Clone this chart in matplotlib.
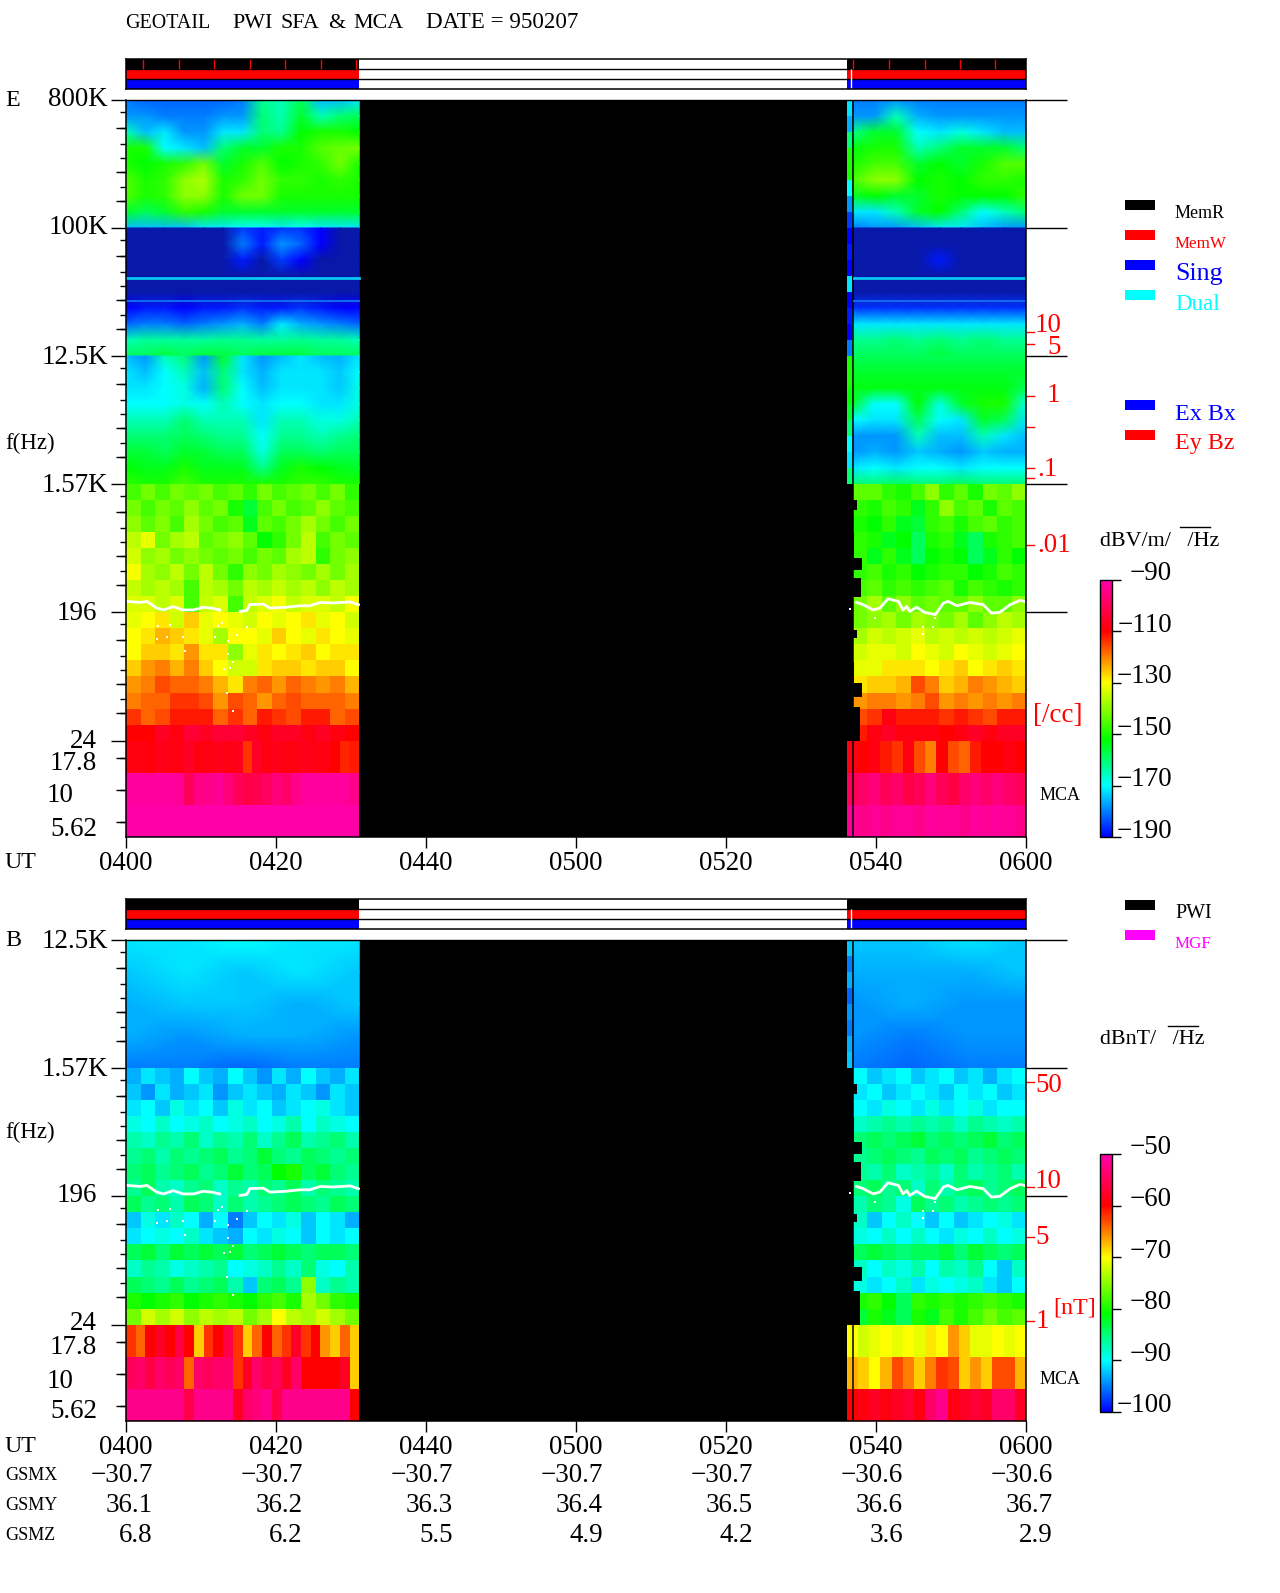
import numpy as np
import matplotlib
matplotlib.use('Agg')
import matplotlib.pyplot as plt
from matplotlib.colors import LinearSegmentedColormap, Normalize
from matplotlib.colorbar import ColorbarBase

W, H = 1280, 1593
plt.rcParams['font.family'] = ['Liberation Serif', 'DejaVu Serif']

# band edges in Hz, top down
band_e = [800000, 100000, 12500, 1570, 196, 24]
mca_hz = [24, 13.5, 7.59, 4.27]

# --- E panel, dBV/m/rtHz ---
e_a_left = [
    [-180,-182,-182,-182,-182,-182,-180,-162,-165,-158,-175,-175,-172],
    [-178,-178,-180,-180,-180,-178,-178,-160,-165,-155,-165,-160,-158],
    [-165,-175,-172,-178,-178,-172,-172,-160,-162,-152,-150,-150,-152],
    [-150,-150,-170,-172,-175,-160,-155,-155,-150,-150,-145,-143,-142],
    [-150,-152,-150,-148,-142,-155,-150,-145,-152,-150,-148,-142,-150],
    [-145,-150,-148,-140,-137,-150,-148,-142,-148,-148,-150,-148,-150],
    [-145,-150,-148,-140,-140,-150,-142,-142,-150,-150,-150,-150,-150],
    [-155,-158,-155,-148,-150,-155,-155,-155,-155,-155,-155,-155,-155],
    [-175,-175,-175,-175,-172,-172,-170,-170,-172,-170,-172,-172,-172],
]
e_a_right = [
    [-180,-180,-178,-180,-180,-180,-180,-180,-180],
    [-178,-178,-165,-176,-178,-178,-178,-178,-178],
    [-162,-155,-155,-170,-172,-168,-172,-175,-175],
    [-153,-150,-150,-165,-160,-155,-155,-155,-160],
    [-150,-146,-146,-155,-152,-155,-150,-145,-145],
    [-146,-140,-140,-152,-150,-152,-148,-148,-150],
    [-155,-152,-155,-155,-150,-152,-152,-152,-148],
    [-172,-172,-165,-155,-152,-160,-170,-165,-160],
    [-180,-178,-178,-175,-172,-172,-175,-178,-178],
]
e_b_left = [
    [-192,-192,-192,-192,-192,-192,-185,-188,-186,-186,-190,-192,-192],
    [-195,-195,-195,-195,-195,-195,-180,-188,-178,-182,-190,-195,-195],
    [-195,-195,-195,-195,-195,-195,-188,-195,-185,-190,-195,-195,-195],
    [-193,-193,-193,-193,-193,-193,-193,-193,-193,-193,-193,-193,-193],
    [-192,-192,-192,-192,-192,-192,-192,-192,-192,-192,-192,-192,-192],
    [-190,-188,-188,-190,-188,-188,-186,-188,-188,-186,-188,-190,-190],
    [-182,-180,-180,-182,-180,-178,-176,-180,-172,-176,-178,-180,-182],
    [-165,-163,-163,-163,-163,-162,-162,-163,-163,-162,-163,-163,-165],
    [-158,-158,-156,-158,-156,-156,-158,-156,-156,-156,-158,-158,-158],
]
e_b_right = [
    [-192,-192,-192,-192,-192,-192,-192,-192,-192],
    [-195,-195,-195,-195,-195,-195,-195,-195,-195],
    [-195,-195,-195,-195,-188,-195,-195,-195,-195],
    [-192,-192,-192,-192,-192,-192,-192,-192,-192],
    [-192,-192,-192,-192,-192,-192,-192,-192,-192],
    [-186,-186,-186,-186,-186,-186,-186,-186,-186],
    [-172,-172,-172,-172,-172,-172,-172,-172,-172],
    [-162,-162,-160,-162,-160,-162,-160,-162,-162],
    [-158,-158,-158,-158,-156,-158,-158,-158,-158],
]
e_c_left = [
    [-175,-178,-165,-160,-178,-155,-172,-178,-175,-172,-175,-176,-172],
    [-172,-175,-170,-165,-175,-160,-172,-176,-172,-172,-172,-174,-170],
    [-172,-172,-170,-168,-176,-160,-170,-175,-172,-172,-172,-174,-168],
    [-170,-170,-170,-168,-170,-165,-170,-172,-170,-170,-172,-172,-168],
    [-165,-165,-165,-160,-165,-165,-165,-172,-165,-165,-168,-168,-165],
    [-160,-160,-160,-158,-160,-162,-162,-170,-162,-162,-165,-162,-160],
    [-156,-156,-158,-155,-156,-158,-158,-168,-158,-158,-160,-158,-158],
    [-152,-154,-154,-150,-154,-154,-154,-162,-154,-150,-152,-154,-155],
    [-148,-150,-150,-146,-150,-150,-150,-150,-150,-148,-148,-150,-150],
]
e_c_right = [
    [-158,-158,-158,-158,-158,-158,-158,-158,-158],
    [-155,-155,-155,-155,-155,-155,-155,-155,-155],
    [-153,-153,-153,-153,-153,-153,-153,-153,-158],
    [-155,-170,-170,-152,-168,-155,-150,-150,-168],
    [-170,-172,-172,-158,-170,-172,-155,-158,-172],
    [-178,-178,-178,-165,-175,-175,-165,-172,-175],
    [-178,-176,-178,-174,-176,-178,-174,-176,-176],
    [-172,-170,-172,-170,-170,-172,-170,-170,-170],
    [-160,-160,-158,-160,-160,-158,-160,-160,-160],
]
e_d_left = [
    [-146,-142,-146,-142,-144,-142,-146,-144,-148,-142,-146,-144,-142,-146,-142,-148],
    [-142,-146,-142,-144,-140,-144,-142,-150,-156,-146,-142,-146,-144,-140,-144,-146],
    [-140,-144,-141,-146,-138,-142,-146,-144,-154,-144,-146,-142,-138,-142,-146,-142],
    [-136,-132,-142,-138,-136,-144,-142,-140,-144,-152,-148,-142,-136,-146,-142,-144],
    [-134,-140,-138,-142,-140,-142,-144,-142,-146,-142,-144,-138,-136,-148,-142,-140],
    [-131,-138,-140,-136,-142,-136,-142,-148,-140,-142,-138,-140,-142,-138,-142,-138],
    [-135,-138,-136,-138,-146,-136,-138,-142,-136,-138,-135,-138,-136,-140,-136,-138],
    [-133,-133,-136,-133,-146,-135,-133,-146,-135,-133,-131,-135,-133,-133,-135,-131],
]
e_e_left = [
    [-132,-130,-128,-134,-126,-132,-130,-132,-134,-130,-132,-130,-128,-132,-130,-134],
    [-130,-128,-124,-126,-128,-132,-138,-130,-130,-132,-126,-130,-132,-128,-130,-132],
    [-130,-126,-126,-128,-122,-128,-128,-140,-132,-128,-130,-128,-126,-130,-128,-128],
    [-126,-122,-120,-124,-120,-126,-130,-134,-134,-128,-126,-126,-128,-126,-126,-130],
    [-122,-120,-116,-118,-118,-120,-124,-128,-120,-118,-122,-118,-120,-122,-120,-124],
    [-120,-118,-118,-114,-114,-116,-122,-116,-118,-122,-118,-116,-118,-118,-118,-120],
    [-114,-118,-116,-112,-112,-112,-118,-114,-118,-112,-114,-116,-112,-112,-118,-116],
    [-110,-110,-106,-108,-104,-106,-104,-104,-106,-108,-106,-106,-108,-106,-108,-110],
]
e_d_right = [
    [-144,-144,-148,-150,-146,-140,-148,-144,-150,-142,-144,-140],
    [-148,-150,-146,-148,-154,-148,-140,-146,-144,-150,-144,-146],
    [-150,-152,-148,-154,-156,-148,-146,-150,-146,-144,-148,-146],
    [-148,-150,-154,-152,-158,-150,-148,-154,-158,-150,-148,-146],
    [-148,-154,-148,-154,-158,-152,-150,-152,-158,-154,-148,-152],
    [-148,-146,-150,-148,-152,-150,-148,-148,-152,-150,-146,-148],
    [-146,-144,-148,-146,-148,-146,-144,-150,-146,-148,-150,-148],
    [-142,-138,-144,-140,-144,-142,-144,-144,-140,-144,-144,-140],
]
e_e_right = [
    [-142,-140,-138,-142,-138,-140,-142,-138,-144,-140,-136,-138],
    [-138,-134,-136,-134,-132,-136,-134,-136,-134,-136,-134,-132],
    [-134,-132,-132,-134,-130,-132,-134,-130,-132,-134,-132,-130],
    [-132,-132,-128,-128,-128,-130,-128,-126,-130,-128,-126,-128],
    [-128,-126,-126,-124,-116,-120,-126,-124,-120,-122,-124,-126],
    [-122,-120,-120,-122,-120,-116,-122,-120,-122,-120,-122,-120],
    [-116,-114,-108,-112,-112,-112,-114,-112,-114,-116,-112,-112],
    [-112,-108,-106,-108,-108,-108,-110,-108,-106,-108,-106,-106],
]
e_mca_left = [
    [-108,-108,-109,-107,-108,-108,-106,-108,-108,-107,-108,-107,-114,-106,-108,-107,-108,-108,-107,-108,-108,-110,-113,-112],
    [-92,-92,-92,-92,-92,-93,-100,-95,-94,-93,-96,-100,-102,-101,-99,-96,-98,-94,-92,-92,-92,-92,-92,-94],
    [-91,-91,-91,-91,-91,-91,-91,-91,-91,-91,-91,-91,-91,-91,-91,-91,-91,-91,-91,-91,-91,-91,-91,-91],
]
e_mca_right = [
    [-108,-110,-108,-112,-114,-108,-116,-120,-110,-116,-118,-112,-110,-110,-108,-110],
    [-100,-98,-96,-100,-98,-102,-100,-96,-100,-102,-98,-96,-98,-96,-98,-100],
    [-93,-94,-93,-94,-93,-93,-94,-92,-93,-93,-94,-92,-93,-92,-93,-94],
]
e_stripe = [-172,-176,-160,-150,-150,-170,-178,-185,-190,-188,-190,-172,-190,-188,-190,-180,
            -150,-150,-152,-155,-160,-170,-172,-160]

# --- B panel, dBnT/rtHz ---
b_c_left = [
    [-91,-91,-90,-91,-91],
    [-92,-91,-92,-91,-92],
    [-93,-92,-92,-93,-92],
    [-93,-94,-93,-93,-94],
    [-95,-95,-96,-95,-95],
]
b_c_right = [
    [-92,-92,-91,-92],
    [-93,-93,-93,-92],
    [-94,-93,-94,-94],
    [-94,-95,-94,-94],
    [-95,-96,-95,-95],
]
b_d_left = [
    [-93,-91,-92,-93,-90,-92,-93,-90,-92,-94,-91,-93,-90,-92,-93,-91],
    [-92,-94,-91,-93,-92,-91,-94,-92,-91,-92,-93,-91,-92,-94,-91,-92],
    [-91,-90,-92,-89,-91,-90,-92,-89,-91,-90,-92,-91,-90,-89,-91,-92],
    [-89,-90,-88,-90,-89,-88,-90,-89,-88,-90,-89,-87,-90,-88,-89,-90],
    [-87,-88,-86,-87,-85,-88,-86,-87,-85,-88,-86,-84,-87,-86,-85,-87],
    [-86,-85,-87,-85,-86,-85,-84,-86,-85,-83,-85,-86,-84,-85,-86,-85],
    [-85,-84,-86,-85,-84,-86,-85,-83,-85,-84,-81,-80,-84,-83,-85,-86],
    [-86,-84,-87,-88,-86,-85,-88,-86,-87,-85,-86,-84,-87,-85,-86,-87],
]
b_e_left = [
    [-84,-86,-85,-87,-84,-85,-88,-85,-87,-86,-85,-84,-85,-86,-84,-85],
    [-92,-89,-91,-88,-90,-93,-90,-95,-92,-90,-91,-89,-92,-90,-91,-93],
    [-91,-90,-89,-90,-88,-91,-92,-93,-90,-91,-89,-90,-92,-90,-91,-90],
    [-84,-83,-85,-83,-84,-83,-84,-83,-85,-84,-83,-84,-85,-84,-84,-85],
    [-88,-86,-87,-89,-88,-87,-86,-90,-89,-88,-86,-88,-85,-89,-90,-87],
    [-84,-85,-86,-84,-86,-85,-84,-87,-92,-85,-84,-86,-75,-88,-86,-87],
    [-80,-81,-80,-79,-81,-80,-79,-80,-81,-79,-78,-80,-74,-76,-79,-80],
    [-76,-72,-74,-72,-75,-73,-74,-73,-76,-74,-70,-73,-74,-72,-74,-76],
]
b_d_right = [
    [-90,-92,-91,-90,-92,-91,-90,-92,-91,-93,-91,-90],
    [-91,-90,-92,-91,-90,-91,-92,-90,-91,-90,-92,-91],
    [-90,-91,-89,-90,-91,-89,-91,-90,-89,-91,-90,-90],
    [-88,-87,-86,-87,-86,-87,-86,-88,-86,-87,-88,-87],
    [-85,-84,-85,-84,-83,-85,-84,-85,-84,-83,-85,-84],
    [-86,-85,-84,-85,-86,-84,-85,-84,-86,-85,-84,-85],
    [-86,-87,-85,-88,-87,-86,-88,-85,-87,-86,-85,-87],
    [-85,-84,-86,-85,-88,-85,-87,-85,-84,-86,-85,-84],
]
b_e_right = [
    [-87,-85,-86,-89,-84,-86,-85,-87,-86,-85,-86,-85],
    [-88,-92,-90,-88,-90,-92,-90,-92,-91,-90,-89,-91],
    [-89,-90,-88,-90,-88,-90,-91,-89,-90,-88,-90,-89],
    [-84,-83,-84,-85,-84,-84,-83,-85,-83,-84,-85,-84],
    [-88,-90,-88,-89,-87,-90,-87,-88,-86,-90,-92,-88],
    [-89,-91,-90,-88,-91,-89,-90,-89,-88,-91,-92,-90],
    [-80,-79,-81,-84,-79,-80,-79,-80,-79,-78,-79,-80],
    [-83,-80,-82,-84,-80,-82,-78,-80,-78,-76,-78,-77],
]
b_mca_left = [
    [-62,-64,-60,-58,-60,-56,-60,-68,-62,-60,-56,-62,-68,-64,-60,-64,-62,-58,-62,-60,-66,-68,-64,-68],
    [-55,-54,-56,-54,-55,-54,-64,-54,-55,-54,-54,-62,-58,-54,-56,-55,-58,-54,-60,-60,-60,-60,-58,-68],
    [-52,-52,-52,-52,-52,-52,-56,-52,-52,-52,-52,-58,-54,-53,-52,-56,-52,-52,-52,-52,-52,-52,-52,-60],
]
b_mca_right = [
    [-70,-72,-71,-70,-71,-70,-71,-69,-70,-66,-68,-71,-71,-70,-71,-70],
    [-67,-68,-70,-67,-63,-65,-68,-65,-62,-63,-68,-66,-68,-63,-63,-67],
    [-60,-59,-58,-59,-58,-57,-59,-54,-52,-59,-58,-57,-58,-54,-54,-58],
]
b_stripe = [-92,-95,-93,-96,-94,-95,-93,-92]

# plasma line and stray points, minutes after 0400 and Hz
trace_t = [0.1,1.9,2.8,4.1,5,6.3,7.6,9,10.3,11.4,12.5,np.nan,15.2,16.1,16.5,18.3,19.2,21.4,23.2,24.5,25.9,27.6,29.9,31,
           np.nan,97.4,98.3,99.6,100.5,101.6,103,103.6,104.1,104.5,105.4,106.5,107.9,109,109.6,110.8,112.5,114.3,115.4,116.5,117.9,119.2,120]
trace_hz = [232,228,232,208,202,213,202,202,211,208,202,np.nan,197,200,220,222,208,211,216,216,228,226,230,220,
            np.nan,228,220,202,208,242,232,202,213,197,211,194,187,226,232,216,228,220,192,194,220,236,230]
stray_t = [4.3,4.1,5.4,5.9,7.6,7.8,12.3,11.9,12.8,13.6,13.6,13.1,13.9,14.3,13.4,14.2,14.8,16.1,96.5,99.9,106.2,106.3,107.6,107.9]
stray_hz = [156,126,131,159,130,103,156,131,163,122,99,77,78,87,52,39,135,153,205,177,154,137,154,177]

# data gap edge below 1.57 kHz: frequency breaks and the time where data starts
step_hz = [1570,1210,1029,708,472,388,341,250,193,146.5,129,87,62,49,42,24]
step_t = [96.5,97.5,96.5,97.1,98.1,96.9,98.0,96.5,96.8,97.5,96.5,97.1,98.1,96.9,97.9]

wave_lines_hz = [44400, 30500]
memw_marks = [2.3,7.1,11.7,16.5,21.2,26,30.7,96.9,101.7,106.5,111.2,115.8]

ut_labels = ['0400','0420','0440','0500','0520','0540','0600']
ut_minutes = [0,20,40,60,80,100,120]
gsmx = ['−30.7','−30.7','−30.7','−30.7','−30.7','−30.6','−30.6']
gsmy = ['36.1','36.2','36.3','36.4','36.5','36.6','36.7']
gsmz = ['6.8','6.2','5.5','4.9','4.2','3.6','2.9']

gap_start, gap_end, sfa_right = 31.1, 96.1, 96.9

cmap = LinearSegmentedColormap.from_list('pwi', [
    (0.0, (0, 0, 1)), (0.2, (0, 1, 1)), (0.38, (0, 1, 0)), (0.6, (1, 1, 0)),
    (0.8, (1, 0, 0)), (1.0, (1, 0, 0.68))])
cmap.set_under('#0818a8')


def forward(f):
    f = np.maximum(np.asarray(f, dtype=float), 1e-3)
    return np.where(f >= 24, np.log(f / 24) / np.log(8), np.log10(f / 24))


def inverse(y):
    y = np.asarray(y, dtype=float)
    return np.where(y >= 0, 24 * 8.0 ** y, 24 * 10.0 ** y)


def make_axes(left, top, right, bottom):
    return fig.add_axes([left / W, 1 - bottom / H, (right - left) / W, (bottom - top) / H])


def smooth(ax, t0, t1, hi, lo, grid, norm):
    g = np.array(grid, dtype=float)
    X, Y = np.meshgrid(np.linspace(t0, t1, g.shape[1]), np.geomspace(hi, lo, g.shape[0]))
    ax.pcolormesh(X, Y, g, shading='gouraud', cmap=cmap, norm=norm, rasterized=True)


def blocks(ax, t0, t1, y_edges, grid, norm):
    g = np.array(grid, dtype=float)
    ax.pcolormesh(np.linspace(t0, t1, g.shape[1] + 1), y_edges, g, shading='flat', cmap=cmap, norm=norm)


def band_ticks(top):
    return [top * 8.0 ** (-d / 128) for d in (12, 28, 44, 58, 72, 87, 101)]


def draw_panel(ax, top_hz, norm, upper, lower, mca, stripe):
    ax.set_facecolor('k')
    ax.set_yscale('function', functions=(forward, inverse))
    for (hi, lo, left, right) in upper:
        smooth(ax, 0, gap_start, hi, lo, left, norm)
        smooth(ax, sfa_right, 120, hi, lo, right, norm)
    for (hi, lo, left, right) in lower:
        blocks(ax, 0, gap_start, np.geomspace(hi, lo, len(left) + 1), left, norm)
        blocks(ax, sfa_right, 120, np.geomspace(hi, lo, len(right) + 1), right, norm)
    blocks(ax, 0, gap_start, mca_hz, mca[0], norm)
    blocks(ax, gap_end, 120, mca_hz, mca[1], norm)
    ax.pcolormesh([gap_end, sfa_right - 0.1], np.geomspace(top_hz, 1570, len(stripe) + 1),
                  np.array(stripe)[:, None], shading='flat', cmap=cmap, norm=norm)
    for i, edge in enumerate(step_t):
        ax.fill_betweenx([step_hz[i], step_hz[i + 1]], gap_end, edge, color='k', lw=0)
    ax.plot([sfa_right, sfa_right], [4.27, top_hz], color='k', lw=1.1)
    ax.plot(trace_t, trace_hz, color='w', lw=2)
    ax.plot(stray_t, stray_hz, ls='', marker='s', ms=1.5, color='w', mew=0)

    ax.set_xlim(0, 120)
    ax.set_ylim(4.27, top_hz)
    ax.set_xticks(ut_minutes)
    ax.set_xticklabels([])
    ax.tick_params(axis='x', length=8, width=1)
    bands = [b for b in band_e if b <= top_hz]
    ax.set_yticks(bands)
    ax.set_yticklabels([])
    ax.tick_params(axis='y', which='major', length=11, width=1)
    minors = [17.8, 10, 5.62]
    medium = [17.8, 10, 5.62]
    for b in bands[:-1]:
        t = band_ticks(b)
        minors += t
        medium += [t[1], t[4], t[6]]
    ax.set_yticks(minors, minor=True)
    ax.set_yticklabels([], minor=True)
    ax.tick_params(axis='y', which='minor', length=4.5, width=1)
    ax.hlines(medium, -10 / 900, 0, transform=ax.get_yaxis_transform(), color='k', lw=1, clip_on=False)
    ax.hlines(bands[:-1], 1, 1 + 41 / 900, transform=ax.get_yaxis_transform(), color='k', lw=1, clip_on=False)
    ax.spines['top'].set_visible(False)
    ax.hlines(top_hz, 0, 1, transform=ax.get_yaxis_transform(), color='k', lw=1, clip_on=False)
    for s in ('left', 'right', 'bottom'):
        ax.spines[s].set_linewidth(1.1)


def draw_status(ax, marks):
    ax.set_xlim(0, 120)
    ax.set_ylim(0, 3)
    for row, col in zip((2.5, 1.5, 0.5), ('k', '#ff0000', '#0000ff')):
        ax.barh(row, gap_start, height=1, color=col)
        ax.barh(row, 120 - gap_end, left=gap_end, height=1, color=col)
    ax.hlines([1, 2], 0, 120, color='k', lw=1)
    ax.vlines(96.65, 0, 2, color='w', lw=1)
    ax.vlines(marks, 2, 3, color='#ff0000', lw=1)
    ax.set_xticks([])
    ax.set_yticks([])
    for s in ax.spines.values():
        s.set_linewidth(1.1)


fig = plt.figure(figsize=(W / 100, H / 100), dpi=100)
px = fig.add_axes([0, 0, 1, 1], zorder=-1)
px.set_xlim(0, W)
px.set_ylim(H, 0)
px.axis('off')


def label(x, y, s, size=27, color='k', ha='left'):
    px.text(x, y, s, fontsize=size * 0.72, color=color, ha=ha, va='center')


ax_e = make_axes(126, 100, 1026, 837)
ax_b = make_axes(126, 940, 1026, 1421)
norm_e = Normalize(-190, -90)
norm_b = Normalize(-100, -50)

draw_panel(ax_e, 800000, norm_e,
           [(band_e[0], band_e[1], e_a_left, e_a_right),
            (band_e[1], band_e[2], e_b_left, e_b_right),
            (band_e[2], band_e[3], e_c_left, e_c_right)],
           [(band_e[3], band_e[4], e_d_left, e_d_right),
            (band_e[4], band_e[5], e_e_left, e_e_right)],
           (e_mca_left, e_mca_right), e_stripe)
for t0, t1 in ((0, gap_start), (sfa_right + 0.2, 120)):
    ax_e.plot([t0, t1], [wave_lines_hz[0]] * 2, color='#08c8f0', lw=2)
    ax_e.plot([t0, t1], [wave_lines_hz[1]] * 2, color='#1068f0', lw=1.5)

draw_panel(ax_b, 12500, norm_b,
           [(band_e[2], band_e[3], b_c_left, b_c_right)],
           [(band_e[3], band_e[4], b_d_left, b_d_right),
            (band_e[4], band_e[5], b_e_left, b_e_right)],
           (b_mca_left, b_mca_right), b_stripe)

draw_status(make_axes(126, 59, 1026, 89), memw_marks)
draw_status(make_axes(126, 899, 1026, 929), [])

# colour bars
for (top, bot, norm, ticks) in ((580, 837, norm_e, [-90, -110, -130, -150, -170, -190]),
                                (1154, 1412, norm_b, [-50, -60, -70, -80, -90, -100])):
    cax = make_axes(1100, top, 1112, bot)
    cb = ColorbarBase(cax, cmap=cmap, norm=norm, ticks=ticks)
    cb.ax.tick_params(length=6.5, width=1, labelright=False)
    cb.outline.set_linewidth(1)
    for v in ticks:
        y = bot - (v - norm.vmin) / (norm.vmax - norm.vmin) * (bot - top)
        label(1172, y - 6, '−%d' % abs(v), ha='right')

# title
for x, s, size in ((125, 'GEOTAIL', 20), (232, 'PWI', 22), (280, 'SFA', 22), (328, '&', 22), (353, 'MCA', 22),
                   (426, 'DATE = 950207', 23)):
    label(x, 23, s, size)

# left axis text
label(5, 100, 'E', 24)
label(5, 443, 'f(Hz)', 23)
label(5, 940, 'B', 24)
label(5, 1132, 'f(Hz)', 23)
for y, s, r in ((100, '800K', 108), (228, '100K', 108), (357, '12.5K', 108), (485, '1.57K', 108), (613, '196', 97),
                (741, '24', 97), (764, '17.8', 97), (796, '10', 73), (829, '5.62', 97),
                (942, '12.5K', 108), (1069, '1.57K', 108), (1196, '196', 97), (1324, '24', 97),
                (1348, '17.8', 97), (1381, '10', 73), (1411, '5.62', 97)):
    label(r, y, s, ha='right')

# UT rows
label(5, 863, 'UT', 24)
label(5, 1447, 'UT', 24)
label(5, 1475, 'GSMX', 18)
label(5, 1505, 'GSMY', 18)
label(5, 1535, 'GSMZ', 18)
for i, m in enumerate(ut_minutes):
    x = 126 + m * 7.5
    label(x, 863, ut_labels[i], ha='center')
    label(x, 1447, ut_labels[i], ha='center')
    label(x + 27, 1475, gsmx[i], ha='right')
    label(x + 27, 1505, gsmy[i], ha='right')
    label(x + 27, 1535, gsmz[i], ha='right')

# red density / field scales on the right
RED = '#ff0000'
for y in (332, 344, 396, 427, 468, 478, 545, 1082, 1187, 1237, 1321):
    px.plot([1027, 1034], [y, y], color=RED, lw=1)
for x, y, s in ((1035, 325, '10'), (1047, 348, '5'), (1047, 396, '1'), (1037, 469, '.1'), (1037, 546, '.01'),
                (1035, 1085, '50'), (1035, 1181, '10'), (1035, 1237, '5'), (1036, 1321, '1')):
    label(x, y, s, color=RED)
label(1033, 716, '[/cc]', 27, RED)
label(1053, 1308, '[nT]', 24, RED)
label(1040, 796, 'MCA', 18)
label(1040, 1380, 'MCA', 18)

# legends
legend_items = [(200, 'MemR', 'k', 18), (230, 'MemW', RED, 17), (260, 'Sing', '#0000ff', 26),
                (290, 'Dual', '#00ffff', 23), (400, 'Ex Bx', '#0000ff', 24), (430, 'Ey Bz', RED, 24),
                (900, 'PWI', 'k', 20), (930, 'MGF', '#ff00ff', 17)]
for y, s, col, size in legend_items:
    px.fill_between([1125, 1155], y, y + 10, color=col, lw=0)
    label(1175, y + 14, s, size, col)

label(1100, 541, 'dBV/m/   /Hz', 22)
px.plot([1180, 1210], [527, 527], color='k', lw=1)
label(1100, 1040, 'dBnT/   /Hz', 22)
px.plot([1168, 1198], [1026, 1026], color='k', lw=1)

fig.savefig('out.png', dpi=100)
